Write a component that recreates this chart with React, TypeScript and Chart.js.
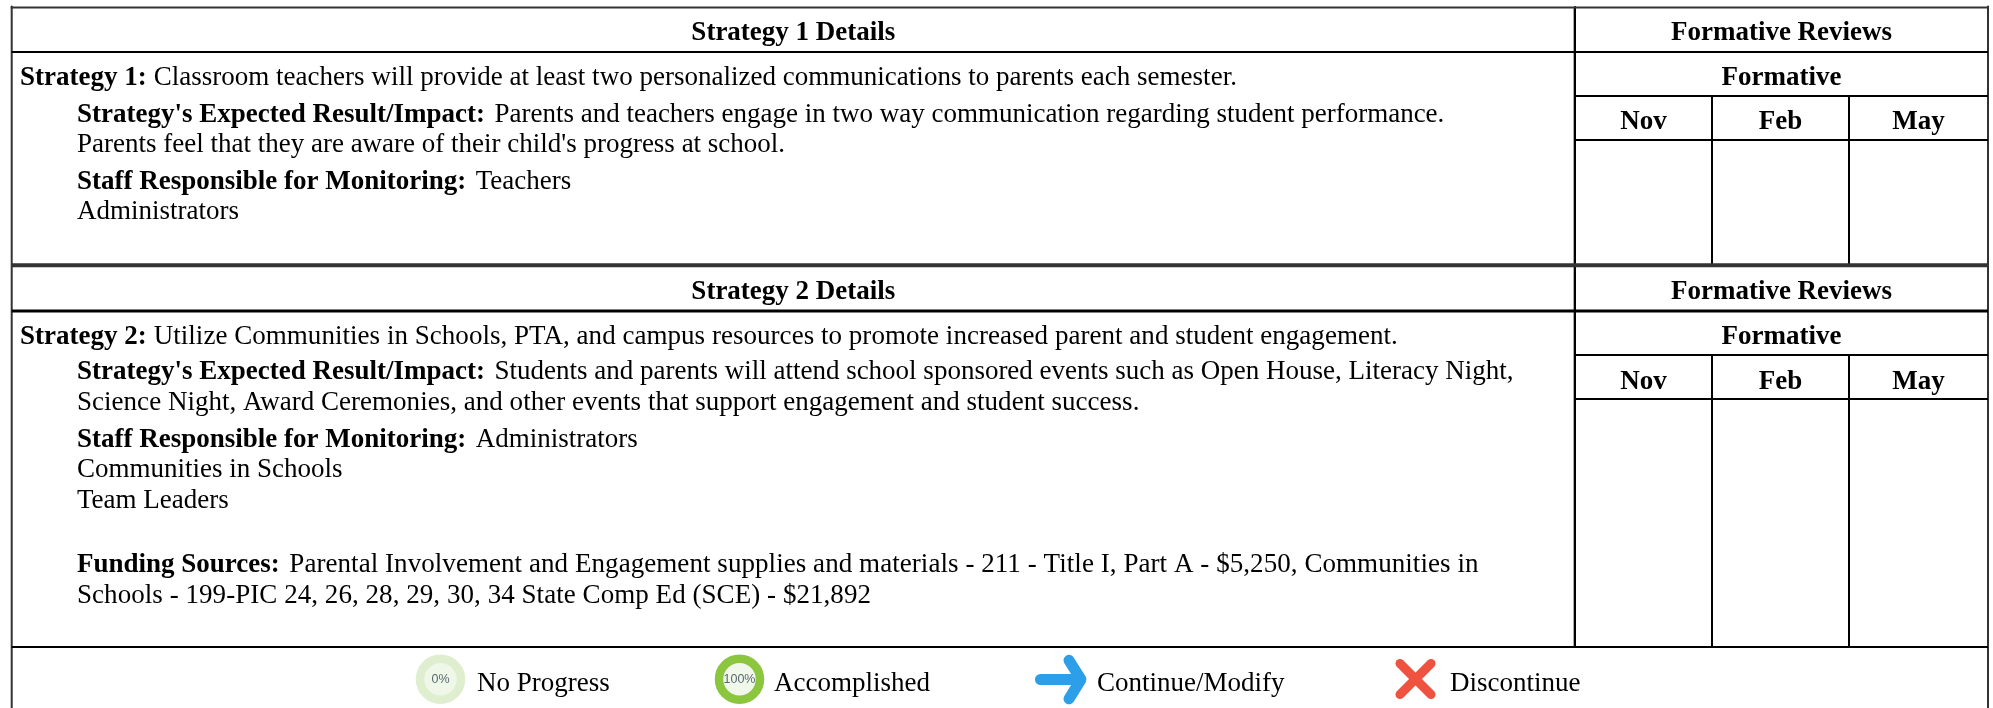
import React, { useEffect, useRef } from "react";
import { Chart, registerables } from "chart.js";

Chart.register(...registerables);

const strategyHeaders = ["Strategy 1 Details", "Strategy 2 Details"];
const reviewHeader = "Formative Reviews";
const formativeLabel = "Formative";
const months = ["Nov", "Feb", "May"];
const legendLabels = ["No Progress", "Accomplished", "Continue/Modify", "Discontinue"];
const progressLabels = ["0%", "100%"];

const strategyOneRows: [string, string][] = [
  ["Strategy 1:", "Classroom teachers will provide at least two personalized communications to parents each semester."],
  ["Strategy's Expected Result/Impact:", "Parents and teachers engage in two way communication regarding student performance."],
  ["", "Parents feel that they are aware of their child's progress at school."],
  ["Staff Responsible for Monitoring:", "Teachers"],
  ["", "Administrators"],
];
const strategyTwoRows: [string, string][] = [
  ["Strategy 2:", "Utilize Communities in Schools, PTA, and campus resources to promote increased parent and student engagement."],
  ["Strategy's Expected Result/Impact:", "Students and parents will attend school sponsored events such as Open House, Literacy Night,"],
  ["", "Science Night, Award Ceremonies, and other events that support engagement and student success."],
  ["Staff Responsible for Monitoring:", "Administrators"],
  ["", "Communities in Schools"],
  ["", "Team Leaders"],
  ["Funding Sources:", "Parental Involvement and Engagement supplies and materials - 211 - Title I, Part A - $5,250, Communities in"],
  ["", "Schools - 199-PIC 24, 26, 28, 29, 30, 34 State Comp Ed (SCE) - $21,892"],
];

const oneBaselines = [85, 122, 152, 189, 219];
const twoBaselines = [344, 379, 410, 447, 477, 508, 572, 602.5];
const oneSpacing = [0.013, 0, 0, 0, 0];
const twoSpacing = [0.035, 0, 0.026, 0, 0, 0, 0.06, 0.05];

const X_LEFT = 11.7, X_MAIN = 1575, X_FEB = 1712, X_MAY = 1849, X_RIGHT = 1988;
const W = 1993, H = 708;

type Seg = [number, number, number, number, string, number];
const rules: Seg[] = [
  [X_LEFT - 1, 7.5, X_RIGHT + 1, 7.5, "#333", 2],
  [X_LEFT, 52, X_RIGHT, 52, "#000", 2],
  [X_MAIN, 96, X_RIGHT, 96, "#000", 2],
  [X_MAIN, 140, X_RIGHT, 140, "#000", 2],
  [X_LEFT, 265.3, X_RIGHT, 265.3, "#333", 4],
  [X_LEFT, 311, X_RIGHT, 311, "#000", 3],
  [X_MAIN, 355, X_RIGHT, 355, "#000", 2],
  [X_MAIN, 399, X_RIGHT, 399, "#000", 2],
  [X_LEFT, 647, X_RIGHT, 647, "#000", 2],
  [X_LEFT, 6.5, X_LEFT, H, "#333", 2],
  [X_RIGHT, 6.5, X_RIGHT, H, "#333", 2],
  [X_MAIN - 1.5, 7, X_MAIN - 1.5, 647, "#aaa", 1],
  [X_MAIN, 7, X_MAIN, 647, "#000", 2],
  [X_FEB, 96, X_FEB, 265, "#000", 2],
  [X_MAY, 96, X_MAY, 265, "#000", 2],
  [X_FEB, 355, X_FEB, 647, "#000", 2],
  [X_MAY, 355, X_MAY, 647, "#000", 2],
];

const arrowShaft = [{ x: 1040.5, y: 679.5 }, { x: 1080, y: 679.5 }];
const arrowHead = [{ x: 1069, y: 660.3 }, { x: 1081, y: 679.5 }, { x: 1069, y: 698.8 }];
const crossA = [{ x: 1400, y: 663.5 }, { x: 1431, y: 694.5 }];
const crossB = [{ x: 1431, y: 663.5 }, { x: 1400, y: 694.5 }];

const SERIF = '"Liberation Serif"';
const FONT_PX = 27;

const tablePlugin = {
  id: "tableText",
  afterDatasetsDraw(chart: any) {
    const ctx = chart.ctx as CanvasRenderingContext2D;
    const sx = chart.scales.x, sy = chart.scales.y;
    ctx.save();
    ctx.fillStyle = "#000";
    ctx.textBaseline = "alphabetic";
    const bold = `700 ${FONT_PX}px ${SERIF}`;
    const reg = `400 ${FONT_PX}px ${SERIF}`;
    const centered = (t: string, x: number, y: number, f = bold) => {
      ctx.font = f;
      ctx.textAlign = "center";
      ctx.fillText(t, sx.getPixelForValue(x), sy.getPixelForValue(y));
    };
    const row = (r: [string, string], x: number, y: number, gap = 9.5, spacing = 0) => {
      ctx.textAlign = "left";
      let px = sx.getPixelForValue(x);
      const py = sy.getPixelForValue(y);
      if (r[0]) {
        ctx.font = bold;
        ctx.fillText(r[0], px, py);
        px += ctx.measureText(r[0]).width + gap;
      }
      ctx.font = reg;
      (ctx as any).letterSpacing = `${spacing}px`;
      ctx.fillText(r[1], px, py);
      (ctx as any).letterSpacing = "0px";
    };
    const cMain = (X_LEFT + X_MAIN) / 2;
    const cRev = (X_MAIN + X_RIGHT) / 2;
    const cMonths = [(X_MAIN + X_FEB) / 2, (X_FEB + X_MAY) / 2, (X_MAY + X_RIGHT) / 2];
    const headerY = [40, 299];
    const formativeY = [85, 344];
    const monthY = [129, 389];
    [0, 1].forEach((i) => {
      centered(strategyHeaders[i], cMain, headerY[i]);
      centered(reviewHeader, cRev, headerY[i]);
      centered(formativeLabel, cRev, formativeY[i]);
      months.forEach((m, j) => centered(m, cMonths[j], monthY[i]));
    });
    strategyOneRows.forEach((r, i) => row(r, i === 0 ? 20 : 77, oneBaselines[i], i === 0 ? 7 : 9.5, oneSpacing[i]));
    strategyTwoRows.forEach((r, i) => row(r, i === 0 ? 20 : 77, twoBaselines[i], i === 0 ? 7 : 9.5, twoSpacing[i]));
    [477, 774, 1097, 1450].forEach((x, i) => row(["", legendLabels[i]], x, 691));
    ctx.fillStyle = "#5a6a70";
    centered(progressLabels[0], 440.5, 683, '400 12.5px "Liberation Sans"');
    centered(progressLabels[1], 739.5, 683, '400 12.5px "Liberation Sans"');
    ctx.restore();
  },
};

const lineDs = (data: { x: number; y: number }[], color: string, width: number, cap = "butt") => ({
  data,
  showLine: true,
  borderColor: color,
  borderWidth: width,
  borderCapStyle: cap,
  borderJoinStyle: "round",
  pointRadius: 0,
  tension: 0,
  fill: false,
  clip: false,
});

export default function App() {
  const ref = useRef<HTMLCanvasElement>(null);
  useEffect(() => {
    document.body.style.margin = "0";
    document.body.style.background = "#fff";
    const chart = new Chart(ref.current!, {
      type: "scatter",
      data: {
        datasets: [
          ...rules.map(([x1, y1, x2, y2, c, w]) => lineDs([{ x: x1, y: y1 }, { x: x2, y: y2 }], c, w)),
          lineDs(arrowShaft, "#2d9fe8", 11, "round"),
          lineDs(arrowHead, "#2d9fe8", 11, "round"),
          lineDs(crossA, "#ee5340", 9, "round"),
          lineDs(crossB, "#ee5340", 9, "round"),
          {
            data: [{ x: 440.5, y: 679.3 }],
            pointRadius: 20.5,
            pointBorderWidth: 8.5,
            pointBackgroundColor: "#eff7e8",
            pointBorderColor: "#dfeecf",
          },
          {
            data: [{ x: 739.5, y: 679.3 }],
            pointRadius: 20.5,
            pointBorderWidth: 8.5,
            pointBackgroundColor: "#f1f7ea",
            pointBorderColor: "#8cc63f",
          },
        ] as any,
      },
      options: {
        responsive: false,
        animation: false,
        devicePixelRatio: 1,
        layout: { padding: 0, autoPadding: false },
        events: [],
        plugins: { legend: { display: false }, tooltip: { enabled: false } },
        scales: {
          x: { type: "linear", min: 0, max: W, display: false },
          y: { type: "linear", min: 0, max: H, reverse: true, display: false },
        },
      },
      plugins: [tablePlugin],
    });
    return () => chart.destroy();
  }, []);
  return <canvas ref={ref} width={W} height={H} style={{ display: "block" }} />;
}
